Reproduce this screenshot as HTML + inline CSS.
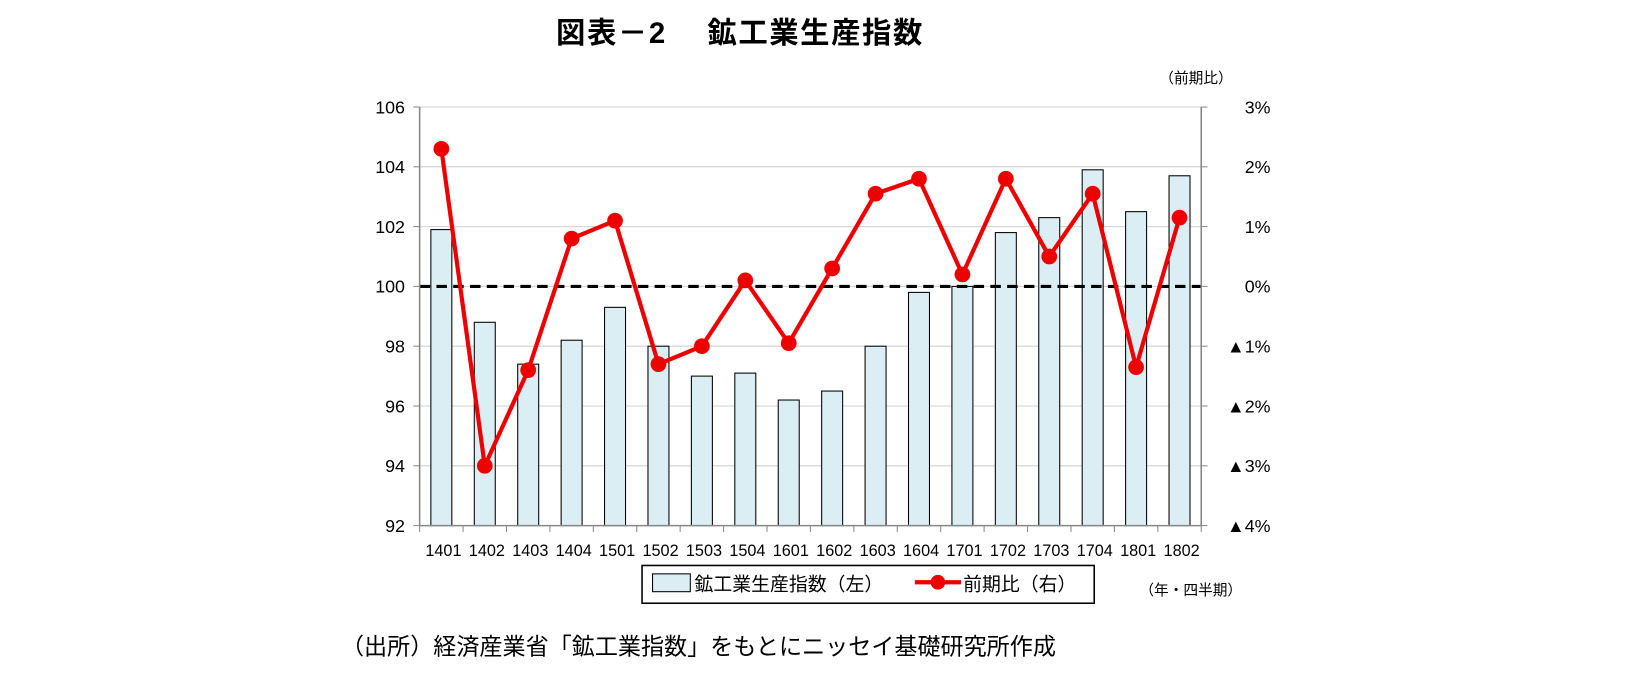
<!DOCTYPE html>
<html><head><meta charset="utf-8">
<style>
body{margin:0;background:#fff;}
svg text{font-family:"Liberation Sans","Noto Sans CJK JP",sans-serif;}
</style></head>
<body>
<svg width="1645" height="693" viewBox="0 0 1645 693" xmlns="http://www.w3.org/2000/svg">
<g transform="scale(1.04911)">
<text x="530" y="41" font-size="28" font-weight="bold" letter-spacing="1.5">図表－2　 鉱工業生産指数</text>
<text x="1140" y="79" font-size="14" text-anchor="middle">（前期比）</text>
<g id="grid"></g>
<g id="bars"></g>
<line x1="400" y1="273" x2="1145" y2="273" stroke="#000" stroke-width="3" stroke-dasharray="10,6"/>
<g id="line"></g>
<g id="axes"></g>
<rect x="612" y="539" width="431" height="36" fill="#fff" stroke="#000" stroke-width="1.5"/>
<rect x="622" y="547" width="36" height="17" fill="#dbeef3" stroke="#000"/>
<text x="662" y="563" font-size="18">鉱工業生産指数（左）</text>
<line x1="872" y1="555" x2="916" y2="555" stroke="#e00" stroke-width="4"/>
<circle cx="894" cy="555" r="7" fill="#e00"/>
<text x="918" y="563" font-size="18">前期比（右）</text>
<text x="1135" y="567" font-size="14" text-anchor="middle">（年・四半期）</text>
<text x="325" y="624" font-size="22">（出所）経済産業省「鉱工業指数」をもとにニッセイ基礎研究所作成</text>
</g>
</svg>
<script>
const categories=["1401","1402","1403","1404","1501","1502","1503","1504","1601","1602","1603","1604","1701","1702","1703","1704","1801","1802"];
const indexValues=[101.9,98.8,97.4,98.2,99.3,98.0,97.0,97.1,96.2,96.5,98.0,99.8,100.0,101.8,102.3,103.9,102.5,103.7];
const changeValues=[2.3,-3.0,-1.4,0.8,1.1,-1.3,-1.0,0.1,-0.95,0.3,1.55,1.8,0.2,1.8,0.5,1.55,-1.35,1.15];
const leftTicks=[92,94,96,98,100,102,104,106];
const rightTicks=[-4,-3,-2,-1,0,1,2,3];
const rightTickLabels=["▲4%","▲3%","▲2%","▲1%","0%","1%","2%","3%"];

const NS="http://www.w3.org/2000/svg";
const X0=400,X1=1145,YT=102,YB=501;
const step=(X1-X0)/categories.length;
const xc=i=>X0+step*(i+0.5);
const yL=v=>YB-(v-92)/(106-92)*(YB-YT);
const yR=v=>YB-(v+4)/7*(YB-YT);
function mk(tag,attrs,parent,txt){const e=document.createElementNS(NS,tag);for(const k in attrs)e.setAttribute(k,attrs[k]);if(txt!==undefined)e.textContent=txt;document.getElementById(parent).appendChild(e);return e;}
leftTicks.forEach((t,i)=>{
  if(t>92){const g=mk('line',{x1:X0,x2:X1,y1:yL(t),y2:yL(t),stroke:'#d0d0d0','stroke-width':1},'grid');
  
  }
  const l=mk('text',{x:386,y:yL(t)+6,'font-size':17,'text-anchor':'end'},'axes',String(t));
  
  
});
rightTicks.forEach((t,i)=>{
  const l=mk('text',{x:1211,y:yR(t)+6,'font-size':17,'text-anchor':'end'},'axes',rightTickLabels[i]);
  
  
});
indexValues.forEach((v,i)=>{
  const b=mk('rect',{x:xc(i)-10,y:yL(v),width:20,height:YB-yL(v),fill:'#dbeef3',stroke:'#000','stroke-width':1},'bars');
  
  
  const l=mk('text',{x:xc(i)+2,y:530,'font-size':15.5,'text-anchor':'middle'},'axes',categories[i]);
  
  
});
for(let i=0;i<=categories.length;i++){
  const t=mk('line',{x1:X0+step*i,x2:X0+step*i,y1:YB,y2:YB+6,stroke:'#888'},'axes');
  
  
}
[[X0,YT,X0,YB],[X1,YT,X1,YB],[X0,YB,X1,YB]].forEach(a=>{
  const l=mk('line',{x1:a[0],y1:a[1],x2:a[2],y2:a[3],stroke:'#888','stroke-width':1.5},'axes');
  
  
});
leftTicks.forEach(t=>{
  const y=yL(t);
  const a=mk('line',{x1:X0-6,x2:X0,y1:y,y2:y,stroke:'#888'},'axes');
  const b=mk('line',{x1:X1,x2:X1+6,y1:y,y2:y,stroke:'#888'},'axes');
});
const pl=mk('polyline',{points:changeValues.map((v,i)=>xc(i)+','+yR(v)).join(' '),fill:'none',stroke:'#e00','stroke-width':4,'stroke-linejoin':'round'},'line');


changeValues.forEach((v,i)=>{
  const c=mk('circle',{cx:xc(i),cy:yR(v),r:7.5,fill:'#e00'},'line');
  
  
});
</script>
</body></html>
